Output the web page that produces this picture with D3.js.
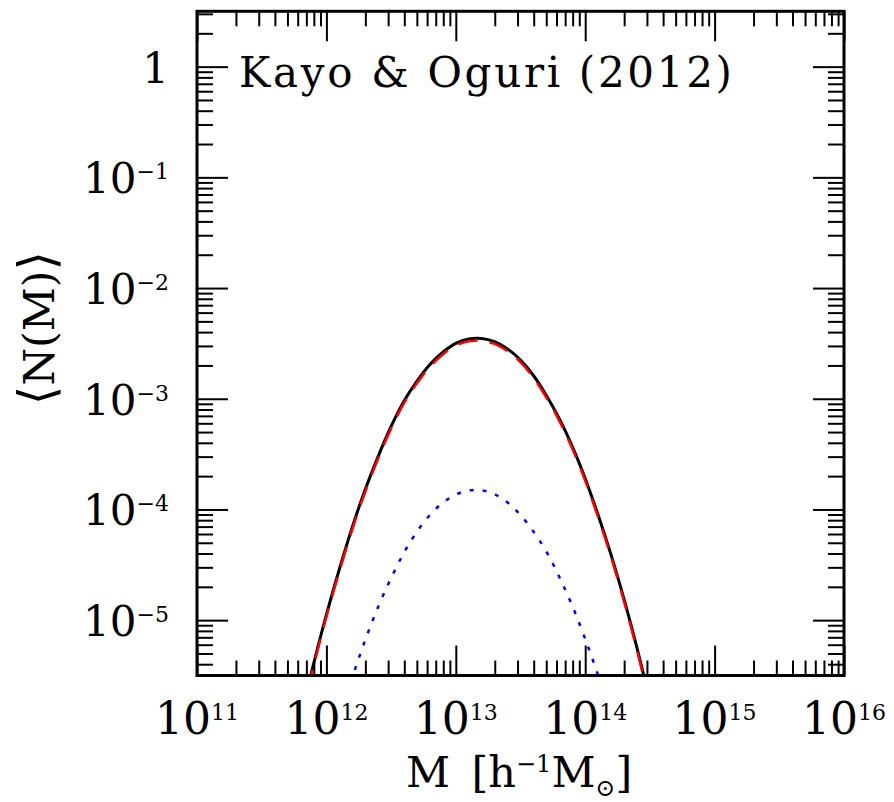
<!DOCTYPE html>
<html>
<head>
<meta charset="utf-8">
<script src="https://cdn.jsdelivr.net/npm/d3@7"></script>
<style>
  html, body { margin: 0; padding: 0; background: #fff; }
  svg { display: block; }
  text { font-family: "DejaVu Serif", serif; fill: #000; white-space: pre; }
</style>
</head>
<body>
<svg id="chart" width="894" height="802"></svg>
<script>
// ---- data ----
const log10M = [11.8, 11.9, 12.0, 12.1, 12.2, 12.3, 12.4, 12.5, 12.6, 12.7, 12.8, 12.9, 13.0, 13.1,
                13.2, 13.3, 13.4, 13.5, 13.6, 13.7, 13.8, 13.9, 14.0, 14.1, 14.2, 14.3, 14.4, 14.5];
// total <N(M)> (black solid), log10
const log10Ntotal = [-5.89, -5.40, -4.95, -4.54, -4.16, -3.82, -3.52, -3.25, -3.02, -2.84, -2.69, -2.58, -2.50, -2.46,
                     -2.455, -2.485, -2.55, -2.65, -2.79, -2.97, -3.18, -3.43, -3.72, -4.05, -4.41, -4.81, -5.25, -5.73];
// centrals (red dashed), log10
const log10Ncen = [-5.91, -5.42, -4.97, -4.56, -4.18, -3.84, -3.54, -3.27, -3.04, -2.86, -2.71, -2.60, -2.52, -2.48,
                   -2.475, -2.505, -2.57, -2.67, -2.81, -2.99, -3.20, -3.45, -3.74, -4.07, -4.43, -4.83, -5.27, -5.75];
// satellites (blue dotted)
const log10Msat = [12.1, 12.2, 12.3, 12.4, 12.5, 12.6, 12.7, 12.8, 12.9, 13.0, 13.1,
                   13.2, 13.3, 13.4, 13.5, 13.6, 13.7, 13.8, 13.9, 14.0, 14.1, 14.2];
const log10Nsat = [-5.90, -5.52, -5.18, -4.88, -4.62, -4.39, -4.20, -4.05, -3.94, -3.866, -3.828,
                   -3.827, -3.863, -3.937, -4.05, -4.20, -4.38, -4.61, -4.87, -5.17, -5.50, -5.87];

const xMajorExp = [11, 12, 13, 14, 15, 16];
const yMajorExp = [-5, -4, -3, -2, -1, 0];
const titleText = "Kayo & Oguri (2012)";

// ---- layout ----
const svg = d3.select("#chart");
const L = 197, R = 844, T = 11.3, B = 675.5;
const x = d3.scaleLog().domain([1e11, 1e16]).range([L, R]);
const y = d3.scaleLog().domain([Math.pow(10, -5.5), Math.pow(10, 0.5)]).range([B, T]);

// minor ticks
const xMinor = [];
for (let e = 11; e < 16; e++) for (let k = 2; k <= 9; k++) xMinor.push(k * Math.pow(10, e));
const yMinor = [];
for (let e = -6; e <= 0; e++) for (let k = 2; k <= 9; k++) {
  const v = k * Math.pow(10, e);
  if (v >= y.domain()[0] && v <= y.domain()[1]) yMinor.push(v);
}
const xMajor = xMajorExp.map(e => Math.pow(10, e));
const yMajor = yMajorExp.map(e => Math.pow(10, e));

function styleAxis(g) {
  g.select(".domain").remove();
  g.selectAll(".tick line").attr("stroke", "#000").attr("stroke-width", 2);
  g.selectAll(".tick text").remove();
}
// bottom
svg.append("g").attr("transform", `translate(0,${B})`)
  .call(d3.axisBottom(x).tickValues(xMajor).tickSize(-30).tickFormat("")).call(styleAxis);
svg.append("g").attr("transform", `translate(0,${B})`)
  .call(d3.axisBottom(x).tickValues(xMinor).tickSize(-15).tickFormat("")).call(styleAxis);
// top
svg.append("g").attr("transform", `translate(0,${T})`)
  .call(d3.axisTop(x).tickValues(xMajor).tickSize(-30).tickFormat("")).call(styleAxis);
svg.append("g").attr("transform", `translate(0,${T})`)
  .call(d3.axisTop(x).tickValues(xMinor).tickSize(-15).tickFormat("")).call(styleAxis);
// left
svg.append("g").attr("transform", `translate(${L},0)`)
  .call(d3.axisLeft(y).tickValues(yMajor).tickSize(-31).tickFormat("")).call(styleAxis);
svg.append("g").attr("transform", `translate(${L},0)`)
  .call(d3.axisLeft(y).tickValues(yMinor).tickSize(-16).tickFormat("")).call(styleAxis);
// right
svg.append("g").attr("transform", `translate(${R},0)`)
  .call(d3.axisRight(y).tickValues(yMajor).tickSize(-31).tickFormat("")).call(styleAxis);
svg.append("g").attr("transform", `translate(${R},0)`)
  .call(d3.axisRight(y).tickValues(yMinor).tickSize(-16).tickFormat("")).call(styleAxis);

// curves
svg.append("clipPath").attr("id", "clip")
  .append("rect").attr("x", L).attr("y", T).attr("width", R - L).attr("height", B - T);
const line = d3.line().x(d => x(d[0])).y(d => y(d[1])).curve(d3.curveCatmullRom);
const toPts = (ms, ns) => ms.map((m, i) => [Math.pow(10, m), Math.pow(10, ns[i])]);
const gc = svg.append("g").attr("clip-path", "url(#clip)");
gc.append("path").attr("d", line(toPts(log10M, log10Ntotal)))
  .attr("fill", "none").attr("stroke", "#000").attr("stroke-width", 3);
gc.append("path").attr("d", line(toPts(log10M, log10Ncen)))
  .attr("fill", "none").attr("stroke", "#ff0000").attr("stroke-width", 2.5)
  .attr("stroke-dasharray", "20,12");
gc.append("path").attr("d", line(toPts(log10Msat, log10Nsat)))
  .attr("fill", "none").attr("stroke", "#0000ff").attr("stroke-width", 2.5)
  .attr("stroke-dasharray", "4,9");

// frame
svg.append("rect").attr("x", L).attr("y", T).attr("width", R - L).attr("height", B - T)
  .attr("fill", "none").attr("stroke", "#000").attr("stroke-width", 3);

// x tick labels
xMajorExp.forEach(e => {
  const t = svg.append("text").attr("x", x(Math.pow(10, e))).attr("y", 734)
    .attr("text-anchor", "middle").attr("font-size", 44);
  t.append("tspan").text("10");
  t.append("tspan").attr("dy", -14).attr("font-size", 22).text(String(e));
});
// y tick labels
yMajorExp.forEach(e => {
  const t = svg.append("text").attr("x", 169).attr("y", y(Math.pow(10, e)) + 16)
    .attr("text-anchor", "end").attr("font-size", 42);
  if (e === 0) { t.text("1"); return; }
  t.append("tspan").text("10");
  t.append("tspan").attr("dy", -14).attr("font-size", 22).text("\u2212" + Math.abs(e));
});

// title inside plot
svg.append("text").attr("x", 239).attr("y", 87).attr("font-size", 42)
  .attr("textLength", 493).attr("lengthAdjust", "spacing").text(titleText);

// x axis title
const xt = svg.append("text").attr("x", 406).attr("y", 787).attr("font-size", 43);
xt.append("tspan").text("M\u2002[h");
xt.append("tspan").attr("dy", -15).attr("font-size", 24).text("\u22121");
xt.append("tspan").attr("dy", 15).text("M");
xt.append("tspan").attr("dy", 9).attr("font-size", 24).text("\u2299");
xt.append("tspan").attr("dy", -9).text("]");

// y axis title
const yt = svg.append("text").attr("transform", "translate(54,328) rotate(-90)")
  .attr("text-anchor", "middle").attr("font-size", 43);
yt.append("tspan").attr("font-size", 50).text("\u27E8");
yt.append("tspan").text("N(M)");
yt.append("tspan").attr("font-size", 50).text("\u27E9");
</script>
</body>
</html>
